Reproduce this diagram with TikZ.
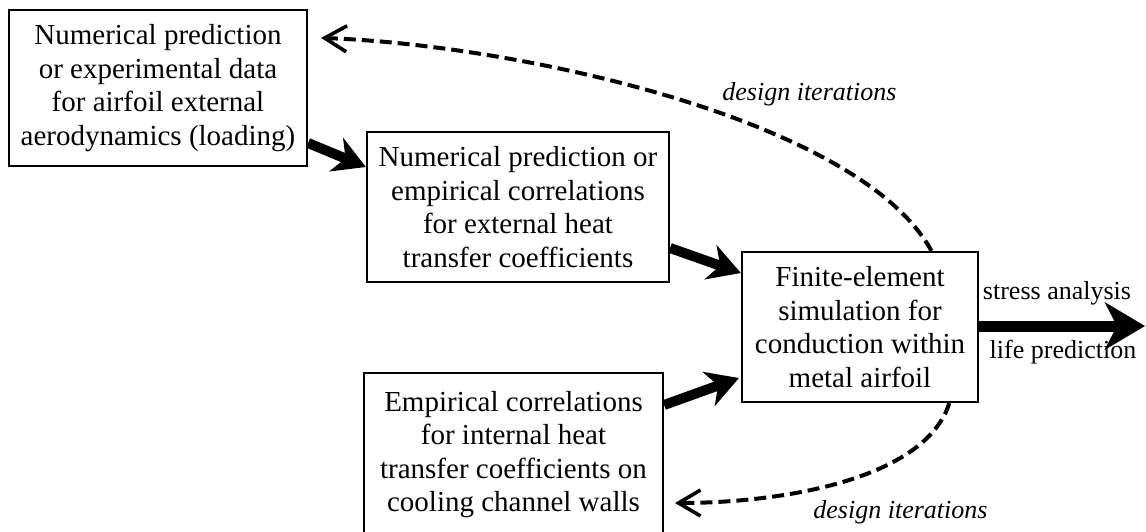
\documentclass[tikz,border=0pt]{standalone}
\usepackage{fontspec}
\setmainfont{Liberation Serif}
\usetikzlibrary{arrows.meta,calc}
\begin{document}
\begin{tikzpicture}[x=0.5pt,y=-0.5pt,
  box/.style={draw,line width=1.1pt,align=center,inner sep=0pt,
    font=\fontsize{14.5}{16.75}\selectfont},
  flow/.style={line width=5pt,-{Stealth[length=16pt,width=18pt,inset=5pt]}},
  bigflow/.style={line width=5.5pt,-{Stealth[length=20pt,width=23.5pt,inset=6pt]}},
  loop/.style={line width=2pt,dash pattern=on 6pt off 3pt,
    -{Straight Barb[length=11pt,width=13pt,line width=1.8pt]}},
  note/.style={inner sep=0pt,font=\fontsize{13}{15}\selectfont\itshape},
  side/.style={inner sep=0pt,font=\fontsize{13}{15}\selectfont}]
\useasboundingbox (0,0) rectangle (1146,531);

% boxes
\node[box,minimum width=149pt,minimum height=78pt] (aero) at (158,88)
  {Numerical prediction\\or experimental data\\for airfoil external\\aerodynamics (loading)};
\node[box,minimum width=151pt,minimum height=75pt] (ext) at (518,207)
  {Numerical prediction or\\empirical correlations\\for external heat\\transfer coefficients};
\node[box,minimum width=118pt,minimum height=75pt] (fe) at (860,327)
  {Finite-element\\simulation for\\conduction within\\metal airfoil};
\node[box,minimum width=149.5pt,minimum height=81.5pt] (int) at (513.5,454.5)
  {Empirical correlations\\for internal heat\\transfer coefficients on\\cooling channel walls};

% forward flow
\draw[flow] ($(aero.east)+(0,55)$) -- ($(ext.west)+(0,-40)$);
\draw[flow] ($(ext.east)+(0,41)$) -- ($(fe.west)+(0,-54)$);
\draw[flow] ($(int.east)+(0,-49.5)$) -- ($(fe.west)+(-2,51)$);
\coordinate (out) at (1145,326);
\draw[bigflow] (fe.east |- out) -- (out);
\node[side] (stress) at (1057,293) {stress analysis};
\node[side] (life) at (1063,352) {life prediction};

% design loops
\coordinate (topend) at ($(aero.north east)+(13,29)$);
\draw[loop] ($(fe.north west)!0.8!(fe.north east)$)
  .. controls (860,120) and (520,45) .. (topend);
\node[note,anchor=west] (it1) at (722,94) {design iterations};

\coordinate (botend) at (675,503);
\draw[loop] ($(fe.south west)!0.875!(fe.south east)$)
  .. controls (925,480) and (780,503) .. (botend);
\node[note,anchor=west] (it2) at (813,512) {design iterations};
\end{tikzpicture}
\end{document}
